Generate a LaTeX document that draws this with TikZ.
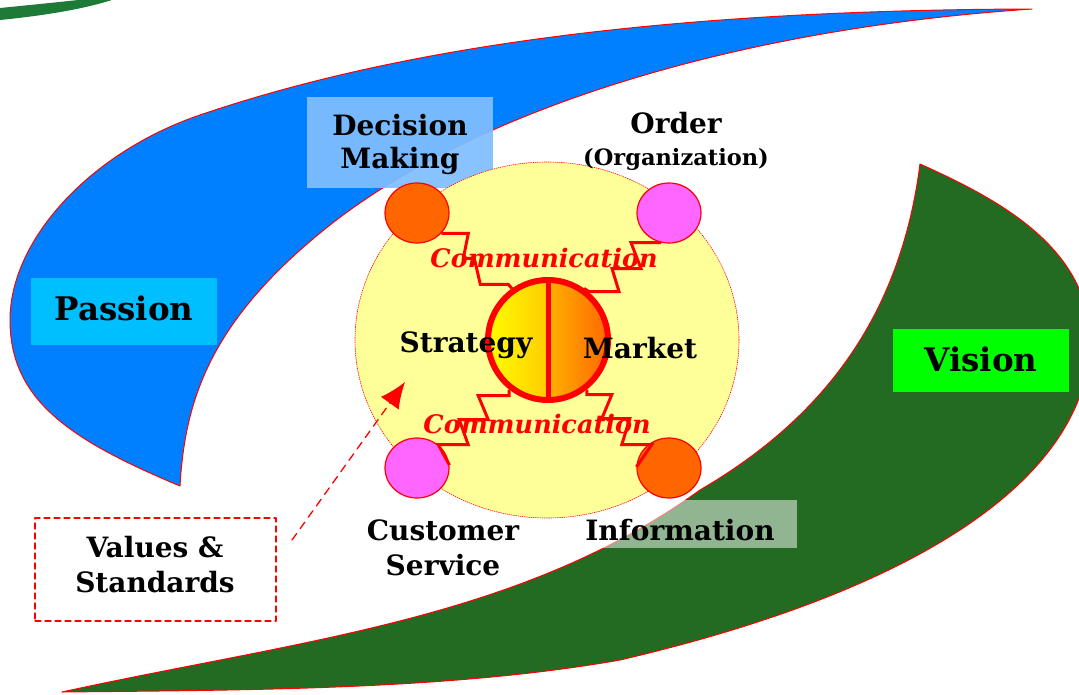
\documentclass[tikz,border=0pt]{standalone}
\usepackage{fontspec}
\setmainfont{DejaVu Serif}
\usetikzlibrary{arrows.meta}
\usetikzlibrary{shapes.geometric}
\definecolor{skyblue}{RGB}{0,128,255}
\definecolor{passionblue}{RGB}{0,191,255}
\definecolor{lightblue}{RGB}{128,190,255}
\definecolor{forest}{RGB}{35,107,35}
\definecolor{leafgreen}{RGB}{30,122,55}
\definecolor{limegreen}{RGB}{0,255,0}
\definecolor{paleyellow}{RGB}{255,255,153}
\definecolor{tangerine}{RGB}{255,102,0}
\definecolor{orchid}{RGB}{255,102,255}
\definecolor{amber}{RGB}{255,204,0}
\definecolor{apricot}{RGB}{255,176,0}

\begin{document}
\begin{tikzpicture}[line cap=round,line join=round,x=1pt,y=-1pt,
  lbl/.style={anchor=base,inner sep=0pt,font=\fontsize{28}{32}\selectfont\bfseries},
  biglbl/.style={lbl,font=\fontsize{32.5}{36}\selectfont\bfseries},
  comm/.style={lbl,text=red,font=\fontsize{25.5}{30}\selectfont\bfseries\itshape},
  tag/.style={rectangle,inner sep=0pt},
  dot/.style={ellipse,draw=red,line width=1.2pt,minimum width=64pt,minimum height=60pt,inner sep=0pt},
  bolt/.style={draw=red,line width=3pt,line join=miter,line cap=butt}]
\useasboundingbox (0,0) rectangle (1079,694);
\clip (0,0) rectangle (1079,694);

% the two big sweeps
\fill[leafgreen] (0,8) .. controls (30,5) and (60,2) .. (78,0) -- (112,0) .. controls (80,10) and (40,16) .. (0,20) -- cycle;
\filldraw[draw=red,line width=1pt,fill=skyblue]
  (1032,9) .. controls (700,10) and (420,40) .. (200,115)
  .. controls (90,152.5) and (10,240) .. (10,320)
  .. controls (10,400) and (70,440) .. (180,486)
  .. controls (185,400) and (210,320) .. (330,225)
  .. controls (470,115) and (720,30) .. (1032,9) -- cycle;
\filldraw[draw=red,line width=1pt,fill=forest]
  (920,164) .. controls (1000,200) and (1095,250) .. (1090,350)
  .. controls (1080,480) and (920,590) .. (620,660)
  .. controls (450,690) and (250,690) .. (62,692)
  .. controls (300,640) and (520,620) .. (700,490)
  .. controls (820,420) and (900,320) .. (920,164) -- cycle;

% boxes behind the labels
\node[tag,fill=passionblue,minimum width=186pt,minimum height=67pt] (passionbox) at (124,311.5) {};
\node[tag,fill=limegreen,minimum width=176pt,minimum height=63pt] (visionbox) at (981,360.5) {};
\node[tag,fill=lightblue,fill opacity=0.93,minimum width=186pt,minimum height=91pt] (decisionbox) at (400,142.5) {};
\node[tag,fill=white,fill opacity=0.5,minimum width=234pt,minimum height=48pt] (infobox) at (680,524) {};
\node[tag,draw=red,line width=1.2pt,dash pattern=on 6pt off 4pt,minimum width=241pt,minimum height=103pt] (values) at (155.5,569.5) {};

% field and core
\filldraw[fill=paleyellow,draw=red,line width=0.6pt,dash pattern=on 1pt off 1.2pt] (547,340) ellipse [x radius=192,y radius=178];
\shade[left color=yellow,right color=amber] (548,402) arc[start angle=90,end angle=270,radius=62] -- cycle;
\shade[left color=apricot,right color=tangerine] (548,278) arc[start angle=270,end angle=450,radius=62] -- cycle;
\node[circle,draw=red,line width=6pt,minimum size=120pt,inner sep=0pt] (core) at (548,340) {};
\draw[red,line width=5pt,line cap=butt] (core.north) -- (core.south);

\node[dot,fill=tangerine] (decide) at (417,213) {};
\node[dot,fill=orchid] (order) at (669,213) {};
\node[dot,fill=orchid] (service) at (417,468) {};
\node[dot,fill=tangerine] (inform) at (669,468) {};

% communication bolts
\draw[bolt] (decide.-40) -- ++(27,0) -- ++(-5,25) -- ++(11,0) -- ++(6,26) -- ++(28,0) -- (core.125);
\draw[bolt] (order.-105) -- ++(-30,0) -- ++(10,26) -- ++(-29,0) -- ++(7,23) -- ++(-30,0) -- (core.55);
\draw[bolt] (core.-128) -- ++(0,6) -- ++(-31,0) -- ++(10,24) -- ++(-29,0) -- ++(9,25) -- ++(-30,0) -- (service.5);
\draw[bolt] (core.-52) -- ++(0,5) -- ++(25,0) -- ++(-10,24) -- ++(28,0) -- ++(-8,26) -- ++(30,0) -- (inform.178);

% labels
\node[biglbl] (passion) at (124,320) {Passion};
\node[biglbl] (vision) at (981,371) {Vision};
\node[lbl] (dec1) at (400,135) {Decision};
\node[lbl] (dec2) at (400,168) {Making};
\node[lbl] (ord1) at (676,133) {Order};
\node[lbl,font=\fontsize{22.5}{26}\selectfont\bfseries] (ord2) at (676,165) {(Organization)};
\node[lbl] (strat) at (466,352) {Strategy};
\node[lbl] (mkt) at (640,358) {Market};
\node[comm] (comm1) at (544,267) {Communication};
\node[comm] (comm2) at (537,433) {Communication};
\node[lbl] (cust1) at (443,540) {Customer};
\node[lbl] (cust2) at (443,575) {Service};
\node[lbl] (val1) at (155,557) {Values \&};
\node[lbl] (val2) at (155,592) {Standards};
\node[lbl] (info) at (680,540) {Information};

% values arrow
\coordinate (vtail) at (292,540);
\coordinate (vtip) at (405,382);
\draw[red,line width=1.3pt,dash pattern=on 8pt off 6pt,-{Latex[length=26pt,width=22pt]}] (vtail) -- (vtip);
\end{tikzpicture}
\end{document}
